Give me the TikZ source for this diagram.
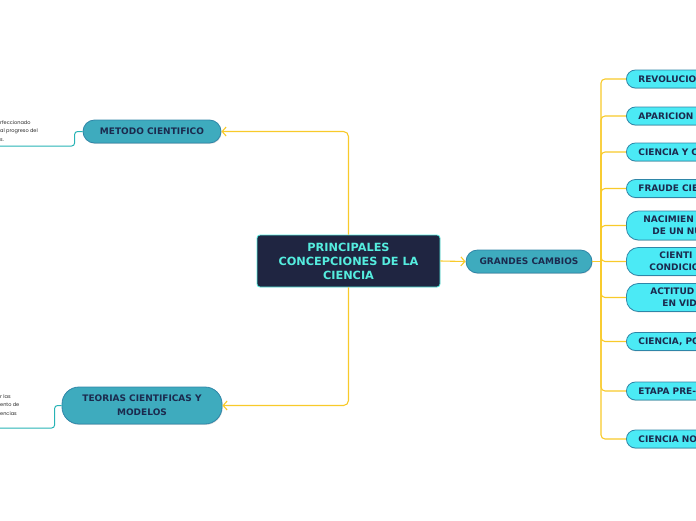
\documentclass[tikz,border=0pt]{standalone}
\usepackage{fontspec}
\setmainfont{DejaVu Sans}
\newfontfamily\notefont{Poppins}
\usetikzlibrary{shadows,arrows.meta}

\definecolor{navy}{HTML}{1F2541}
\definecolor{aqua}{HTML}{55EDDF}
\definecolor{teal1}{HTML}{3EABBE}
\definecolor{tealborder}{HTML}{2F86A8}
\definecolor{cyanfill}{HTML}{4BEAF5}
\definecolor{inktext}{HTML}{1B2A4E}
\definecolor{linkyellow}{HTML}{F8CA2A}
\definecolor{notelink}{HTML}{27B3B5}

\begin{document}
\begin{tikzpicture}[x=1pt, y=-1pt,
  centre/.style={draw=aqua, line width=0.8pt, fill=navy, text=aqua, rounded corners=3pt,
    minimum width=183pt, minimum height=52pt, align=center,
    font=\fontsize{11.3}{14}\selectfont\bfseries},
  maintopic/.style={draw=tealborder, line width=0.8pt, fill=teal1, text=inktext, align=center,
    drop shadow={shadow xshift=0.6pt, shadow yshift=-0.9pt, opacity=0.3},
    font=\fontsize{9}{14}\selectfont\bfseries},
  subtopic/.style={draw=tealborder, line width=0.8pt, fill=cyanfill, text=inktext,
    anchor=west, text width=100pt, align=left, inner xsep=12pt, inner ysep=0pt,
    drop shadow={shadow xshift=0.6pt, shadow yshift=-0.9pt, opacity=0.3},
    font=\fontsize{9}{12}\selectfont\bfseries},
  notetext/.style={anchor=west, inner sep=0pt, align=left, text=black!85,
    font=\notefont\fontsize{5}{8.5}\selectfont},
  conn/.style={draw=linkyellow, line width=1.1pt},
  tip/.style={-{Straight Barb[length=4pt,width=9pt]}},
  noteline/.style={draw=notelink, line width=1pt, rounded corners=3pt}]
\useasboundingbox (0,0) rectangle (696,520);
\clip (0,0) rectangle (696,520);

% central topic
\node[centre] (main) at (348.5,261) {PRINCIPALES\\CONCEPCIONES DE LA\\CIENCIA};

% first level
\node[maintopic, rounded corners=11.5pt, minimum width=138pt, minimum height=23pt] (metodo) at (152,131.5) {METODO CIENTIFICO};
\node[maintopic, rounded corners=17pt, minimum width=160pt, minimum height=37pt] (teorias) at (142,405.5) {TEORIAS CIENTIFICAS Y\\MODELOS};
\node[maintopic, rounded corners=11.5pt, minimum width=126pt, minimum height=23pt] (grandes) at (529,261.5) {GRANDES CAMBIOS};

\draw[conn, tip, rounded corners=5pt] (main.north) |- (metodo.east);
\draw[conn, tip, rounded corners=5pt] (main.south) |- (teorias.east);
\draw[conn, tip] (main.east) -- (grandes.west);

% notes on the left
\node[notetext] (note1) at (0,131) {rfeccionado\\al progreso del\\s.};
\coordinate (note1end) at (0,146);
\draw[noteline] (metodo.west) -- ++(-8,0) |- (note1end);

\node[notetext] (note2) at (0,405) {r las\\ento de\\encias};
\coordinate (note2end) at (0,428);
\draw[noteline] (teorias.west) -- ++(-7,0) |- (note2end);

% right branch
\node[subtopic, minimum height=18pt, rounded corners=9pt] (rev) at (626,79) {REVOLUCIO};
\node[subtopic, minimum height=18pt, rounded corners=9pt] (apa) at (626,116) {APARICION};
\node[subtopic, minimum height=18pt, rounded corners=9pt] (cyo) at (626,152) {CIENCIA Y C};
\node[subtopic, minimum height=18pt, rounded corners=9pt] (fra) at (626,188.5) {FRAUDE CIE};
\node[subtopic, minimum height=29pt, rounded corners=12pt] (nac) at (626,225.5) {\hspace*{5pt}NACIMIEN\\\hspace*{14pt}DE UN NU};
\node[subtopic, minimum height=28pt, rounded corners=12pt] (cie) at (626,261.5) {\hspace*{21pt}CIENTI\\\hspace*{11pt}CONDICIO};
\node[subtopic, minimum height=28pt, rounded corners=12pt] (act) at (626,297.5) {\hspace*{12pt}ACTITUD\\\hspace*{24pt}EN VID};
\node[subtopic, minimum height=18pt, rounded corners=9pt] (cpo) at (626,341.5) {CIENCIA, PO};
\node[subtopic, minimum height=18pt, rounded corners=9pt] (eta) at (626,391) {ETAPA PRE-};
\node[subtopic, minimum height=18pt, rounded corners=9pt] (cno) at (626,439) {CIENCIA NO};

\coordinate (trunk) at (601,261.5);
\draw[conn] (grandes.east) -- (trunk);
\foreach \n in {rev,apa,cyo,fra,nac,cie,act,cpo,eta,cno}
  \draw[conn, rounded corners=4pt] (trunk) |- (\n.west);
\end{tikzpicture}
\end{document}
